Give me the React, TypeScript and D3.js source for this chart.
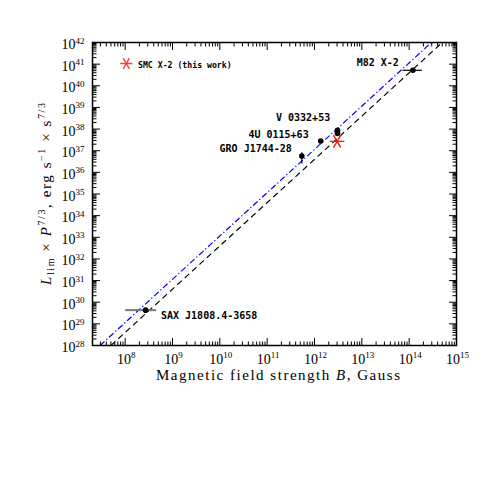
import React from 'react';
import * as d3 from 'd3';

// ---- data ----
const xDomain: [number, number] = [2.04e7, 1e15];
const yDomain: [number, number] = [1e28, 1e42];
const xTickExps = [8, 9, 10, 11, 12, 13, 14, 15];
const yTickExps = [28, 29, 30, 31, 32, 33, 34, 35, 36, 37, 38, 39, 40, 41, 42];

const sourceNames = ['SAX J1808.4-3658', 'GRO J1744-28', '4U 0115+63', 'V 0332+53', '', 'M82 X-2'];
const sourceB = [2.7e8, 5.4e11, 1.35e12, 3.06e12, 3.06e12, 1.2e14];
const sourceL = [4.3e29, 5.7e36, 2.8e37, 8.7e37, 6.3e37, 5.2e40];
const sourceBLow: (number | null)[] = [1.0e8, null, null, null, null, 7.2e13];
const sourceBHigh: (number | null)[] = [4.5e8, null, null, null, null, 1.85e14];
const sourceLLow: (number | null)[] = [null, 2.6e36, null, null, null, null];
const sourceLHigh: (number | null)[] = [null, 8.5e36, null, null, null, null];

const smcB = [3.0e12];
const smcL = [2.7e37];
const legendLabel = 'SMC X-2 (this work)';

const upperLineB = [2.95e7, 2.95e14];
const upperLineL = [1e28, 1e42];
const lowerLineB = [5.0e7, 5.0e14];
const lowerLineL = [1e28, 1e42];

// ---- layout ----
const W = 498, H = 498;
const L = 92.5, R = 456.5, T = 42.5, B = 345.5;
const labelOffsets = [
  { dx: 15.4, dy: 9.2, anchor: 'start' },
  { dx: -10, dy: -4, anchor: 'end' },
  { dx: -12, dy: -3.5, anchor: 'end' },
  { dx: -7.3, dy: -9, anchor: 'end' },
  { dx: 0, dy: 0, anchor: 'end' },
  { dx: -14, dy: -4.3, anchor: 'end' },
];

export default function App() {
  const x = d3.scaleLog().domain(xDomain).range([L, R]);
  const y = d3.scaleLog().domain(yDomain).range([B, T]);

  const minorVals = (dom: [number, number]) => {
    const out: { v: number; major: boolean }[] = [];
    const e0 = Math.floor(Math.log10(dom[0]));
    const e1 = Math.ceil(Math.log10(dom[1]));
    for (let e = e0; e <= e1; e++) {
      for (let m = 1; m <= 9; m++) {
        const v = m * Math.pow(10, e);
        if (v >= dom[0] * 0.999 && v <= dom[1] * 1.001) out.push({ v, major: m === 1 });
      }
    }
    return out;
  };
  const xt = minorVals(xDomain);
  const yt = minorVals(yDomain);
  const MAJ = 7.5, MIN = 4;

  const line = d3.line<[number, number]>().x(d => x(d[0])).y(d => y(d[1]));
  const upper = line(upperLineB.map((b, i) => [b, upperLineL[i]] as [number, number]));
  const lower = line(lowerLineB.map((b, i) => [b, lowerLineL[i]] as [number, number]));

  const star = d3.symbol().type(d3.symbolAsterisk).size(150)();
  const starSmall = d3.symbol().type(d3.symbolAsterisk).size(105)();

  const serif = '"Liberation Serif", "Times New Roman", serif';
  const mono = '"DejaVu Sans Mono", monospace';

  return (
    <svg width={W} height={H} style={{ position: 'absolute', left: 0, top: 0, background: '#fff' }}>
      <defs>
        <clipPath id="plotclip">
          <rect x={L} y={T} width={R - L} height={B - T} />
        </clipPath>
      </defs>
      {/* model lines */}
      <g clipPath="url(#plotclip)">
        <path d={upper || ''} fill="none" stroke="#0000ff" strokeWidth={1.2} strokeDasharray="6,2.5,1.2,2.5" />
        <path d={lower || ''} fill="none" stroke="#000" strokeWidth={1.1} strokeDasharray="6,4" />
      </g>

      {/* error bars */}
      {sourceB.map((b, i) => (
        <g key={'e' + i}>
          {sourceBLow[i] != null && (
            <line x1={x(sourceBLow[i] as number)} x2={x(sourceBHigh[i] as number)} y1={y(sourceL[i])} y2={y(sourceL[i])}
              stroke={i === 0 ? '#777' : '#000'} strokeWidth={i === 0 ? 2 : 1.2} />
          )}
          {sourceLLow[i] != null && (
            <line x1={x(b)} x2={x(b)} y1={y(sourceLLow[i] as number)} y2={y(sourceLHigh[i] as number)}
              stroke="#000" strokeWidth={1.2} />
          )}
        </g>
      ))}
      {/* points */}
      {sourceB.map((b, i) => (
        <circle key={'p' + i} cx={x(b)} cy={y(sourceL[i])} r={2.8} fill="#000" />
      ))}
      {/* SMC X-2 */}
      {smcB.map((b, i) => (
        <path key={'s' + i} d={star || ''} transform={`translate(${x(b)},${y(smcL[i])}) rotate(90)`}
          fill="none" stroke="#ff1010" strokeWidth={1.4} />
      ))}

      {/* source labels */}
      {sourceNames.map((n, i) => n ? (
        <text key={'l' + i} x={x(sourceB[i]) + labelOffsets[i].dx} y={y(sourceL[i]) + labelOffsets[i].dy}
          textAnchor={labelOffsets[i].anchor as any} fontFamily={mono} fontWeight="bold" fontSize={10} fill="#000">{n}</text>
      ) : null)}

      {/* legend */}
      <path d={starSmall || ''} transform={`translate(126.3,63.5) rotate(90)`} fill="none" stroke="#ff4040" strokeWidth={1.4} />
      <text x={138} y={67.5} fontFamily={mono} fontWeight="bold" fontSize={8.2} fill="#000">{legendLabel}</text>

      {/* frame */}
      <rect x={L} y={T} width={R - L} height={B - T} fill="none" stroke="#000" strokeWidth={1.5} />
      {/* ticks */}
      {xt.map((t, i) => {
        const len = t.major ? MAJ : MIN;
        const xx = x(t.v);
        return (
          <g key={'xt' + i}>
            <line x1={xx} x2={xx} y1={B} y2={B - len} stroke="#000" strokeWidth={1} />
            <line x1={xx} x2={xx} y1={T} y2={T + len} stroke="#000" strokeWidth={1} />
          </g>
        );
      })}
      {yt.map((t, i) => {
        const len = t.major ? MAJ : MIN;
        const yy = y(t.v);
        return (
          <g key={'yt' + i}>
            <line x1={L} x2={L + len} y1={yy} y2={yy} stroke="#000" strokeWidth={1} />
            <line x1={R} x2={R - len} y1={yy} y2={yy} stroke="#000" strokeWidth={1} />
          </g>
        );
      })}

      {/* tick labels */}
      {xTickExps.map(e => (
        <text key={'xl' + e} x={x(Math.pow(10, e)) + 1} y={363.5} textAnchor="middle" fontFamily={serif} fontSize={14} fill="#000">
          10<tspan fontSize={9} dy={-5.5}>{e}</tspan>
        </text>
      ))}
      {yTickExps.map(e => (
        <text key={'yl' + e} x={84.5} y={y(Math.pow(10, e)) + 6.5} textAnchor="end" fontFamily={serif} fontSize={14} fill="#000">
          10<tspan fontSize={9} dy={-5.5}>{e}</tspan>
        </text>
      ))}

      {/* axis titles */}
      <text x={278} y={379.5} textAnchor="middle" fontFamily={serif} fontSize={15} fill="#000"
        textLength={244} lengthAdjust="spacing">
        Magnetic field strength <tspan fontStyle="italic">B</tspan>, Gauss
      </text>
      <g transform="translate(51,194) rotate(-90)">
        <text x={0} y={0} textAnchor="middle" fontFamily={serif} fontSize={15} fill="#000"
          textLength={182} lengthAdjust="spacing">
          <tspan fontStyle="italic">L</tspan>
          <tspan fontSize={10} dy={3}>lim</tspan>
          <tspan dy={-3}> × </tspan>
          <tspan fontStyle="italic">P</tspan>
          <tspan fontSize={10} dy={-6}>7/3</tspan>
          <tspan dy={6}>, erg s</tspan>
          <tspan fontSize={10} dy={-6}>−1</tspan>
          <tspan dy={6}> × s</tspan>
          <tspan fontSize={10} dy={-6}>7/3</tspan>
        </text>
      </g>
    </svg>
  );
}
